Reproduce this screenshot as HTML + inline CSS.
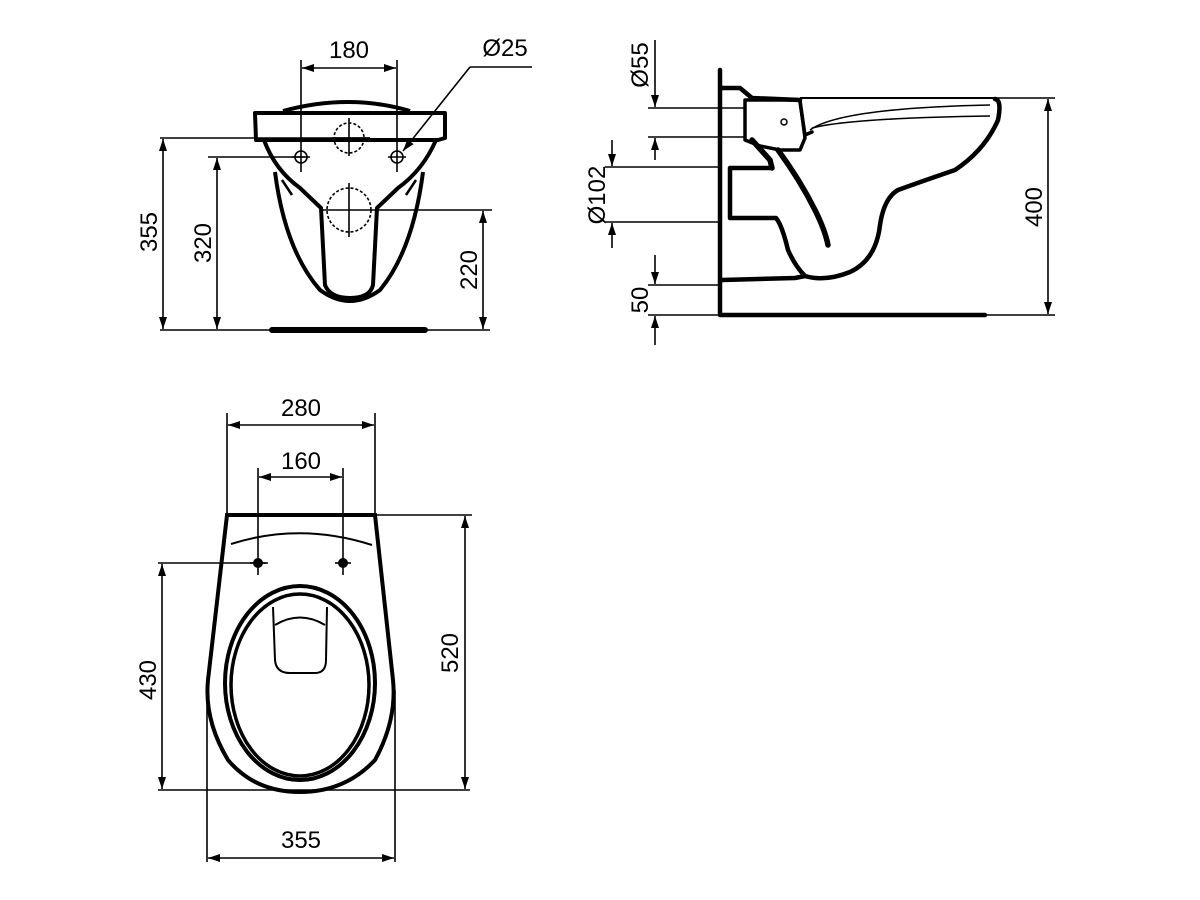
<!DOCTYPE html>
<html><head><style>html,body{margin:0;padding:0;background:#fff;}svg{display:block}</style></head><body>
<svg width="1200" height="900" viewBox="0 0 1200 900" xmlns="http://www.w3.org/2000/svg" font-family="Liberation Sans, sans-serif" font-size="24">
<defs>
<marker id="a" viewBox="0 0 12 8" refX="12" refY="4" markerWidth="13" markerHeight="8" orient="auto-start-reverse" markerUnits="userSpaceOnUse"><path d="M0,0L12,4L0,8z" fill="#000"/></marker>
</defs>
<g stroke="#000" stroke-width="1.6" fill="none">
<line x1="301" y1="60" x2="301" y2="172"/><line x1="397" y1="60" x2="397" y2="172"/>
<line x1="302" y1="68" x2="396" y2="68" marker-start="url(#a)" marker-end="url(#a)"/>
<polyline points="532,67 470,67"/><line x1="470" y1="67" x2="403" y2="151" marker-end="url(#a)"/>
<line x1="160" y1="138" x2="370" y2="138"/>
<line x1="208" y1="157" x2="305" y2="157"/>
<line x1="320" y1="210" x2="492" y2="210"/>
<line x1="160" y1="330" x2="490" y2="330"/>
<line x1="163" y1="139" x2="163" y2="329" marker-start="url(#a)" marker-end="url(#a)"/>
<line x1="217" y1="158" x2="217" y2="329" marker-start="url(#a)" marker-end="url(#a)"/>
<line x1="483" y1="211" x2="483" y2="329" marker-start="url(#a)" marker-end="url(#a)"/>
<circle cx="349" cy="138" r="15" stroke-dasharray="3,2"/>
<circle cx="349" cy="210" r="22" stroke-dasharray="3,2"/>
<line x1="349" y1="118" x2="349" y2="156"/><line x1="332" y1="138" x2="370" y2="138"/>
<line x1="349" y1="183" x2="349" y2="237"/>
<circle cx="301" cy="157" r="6"/><circle cx="397" cy="157" r="6"/>
<line x1="292" y1="157" x2="310" y2="157"/><line x1="388" y1="157" x2="406" y2="157"/>
</g>
<g stroke="#000" stroke-width="4" fill="none" stroke-linejoin="round">
<path d="M255,113 L445,113 L445,138 L438,140 L256,140 Z"/>
<path d="M283,111 Q349,93 410,111"/>
<path d="M264,140 Q275,170 300,188 L321,208 L325,285 Q330,298 350,298 Q370,298 373,285 L377,208 L398,188 Q423,170 436,140"/>
<path d="M275,172 Q285,250 320,290 Q335,301 350,301 Q365,301 380,290 Q413,250 423,172"/>
<path d="M282,180 L292,195 M416,180 L406,195" stroke-width="2.5"/>
</g>
<line x1="272" y1="330" x2="425" y2="330" stroke="#000" stroke-width="6" stroke-linecap="round"/>
<text x="349" y="58" text-anchor="middle">180</text>
<text x="505" y="56" text-anchor="middle">Ø25</text>
<text transform="translate(157,232) rotate(-90)" text-anchor="middle">355</text>
<text transform="translate(211,243) rotate(-90)" text-anchor="middle">320</text>
<text transform="translate(477,270) rotate(-90)" text-anchor="middle">220</text>

<!-- SIDE VIEW -->
<g stroke="#000" stroke-width="1.6" fill="none">
<line x1="990" y1="98" x2="1055" y2="98"/><line x1="985" y1="315" x2="1055" y2="315"/>
<line x1="1048" y1="99" x2="1048" y2="314" marker-start="url(#a)" marker-end="url(#a)"/>
<line x1="648" y1="108" x2="745" y2="108"/><line x1="648" y1="137" x2="745" y2="137"/>
<line x1="655" y1="40" x2="655" y2="107" marker-end="url(#a)"/>
<line x1="655" y1="160" x2="655" y2="138" marker-end="url(#a)"/>
<line x1="605" y1="167" x2="720" y2="167"/><line x1="605" y1="222" x2="720" y2="222"/>
<line x1="612" y1="140" x2="612" y2="166" marker-end="url(#a)"/>
<line x1="612" y1="248" x2="612" y2="223" marker-end="url(#a)"/>
<line x1="648" y1="285" x2="722" y2="285"/><line x1="648" y1="315" x2="722" y2="315"/>
<line x1="655" y1="255" x2="655" y2="284" marker-end="url(#a)"/>
<line x1="655" y1="345" x2="655" y2="316" marker-end="url(#a)"/>
<line x1="800" y1="98" x2="995" y2="98" stroke-width="2"/>
<path d="M810,130 Q840,108 990,105"/>
<path d="M812,128 Q850,118 990,116"/>
</g>
<g stroke="#000" stroke-width="4.5" fill="none" stroke-linejoin="round" stroke-linecap="round">
<path d="M720,70 L720,315 L985,315"/>
<path d="M722,88 L740,88 L752,98 L800,100"/>
<path d="M995,99 Q1002,100 998,120 Q985,150 955,170 Q920,182 898,190 Q884,198 880,225 Q876,260 850,272 Q825,282 805,276 Q795,266 788,250 Q782,225 776,218 L730,218 L730,168 L772,168"/>
<path d="M722,280 L795,278 L805,276"/>
<path d="M745,100 L800,100 L805,138 L800,150 L780,150 L760,146 L745,140 Z" stroke-width="3.5"/>
<path d="M800,102 L805,135 L812,132" stroke-width="3.5"/>
<path d="M778,150 Q800,180 815,210 Q825,230 828,245" stroke-width="5.5"/>
<path d="M752,140 L770,160 L772,168" stroke-width="5.5"/>
</g>
<circle cx="784" cy="122" r="3" stroke="#000" stroke-width="1.5" fill="none"/>
<text transform="translate(648,65) rotate(-90)" text-anchor="middle">Ø55</text>
<text transform="translate(605,195) rotate(-90)" text-anchor="middle">Ø102</text>
<text transform="translate(648,300) rotate(-90)" text-anchor="middle">50</text>
<text transform="translate(1042,207) rotate(-90)" text-anchor="middle">400</text>

<!-- TOP VIEW -->
<g stroke="#000" stroke-width="1.6" fill="none">
<line x1="227" y1="413" x2="227" y2="515"/><line x1="375" y1="413" x2="375" y2="515"/>
<line x1="228" y1="425" x2="374" y2="425" marker-start="url(#a)" marker-end="url(#a)"/>
<line x1="258" y1="468" x2="258" y2="575"/><line x1="343" y1="468" x2="343" y2="575"/>
<line x1="259" y1="477" x2="342" y2="477" marker-start="url(#a)" marker-end="url(#a)"/>
<line x1="375" y1="515" x2="472" y2="515"/>
<line x1="158" y1="563" x2="268" y2="563"/>
<line x1="158" y1="790" x2="470" y2="790"/>
<line x1="465" y1="516" x2="465" y2="789" marker-start="url(#a)" marker-end="url(#a)"/>
<line x1="162" y1="564" x2="162" y2="789" marker-start="url(#a)" marker-end="url(#a)"/>
<line x1="207" y1="690" x2="207" y2="862"/><line x1="395" y1="690" x2="395" y2="862"/>
<line x1="208" y1="858" x2="394" y2="858" marker-start="url(#a)" marker-end="url(#a)"/>
<path d="M231,544 Q300,522 372,545" stroke-width="2"/>
<path d="M273,607 L275,660 Q276,673 290,673 L315,673 Q326,673 326,660 L327,607" stroke-width="2"/>
<path d="M275,625 Q300,610 325,625" stroke-width="2"/>
</g>
<g stroke="#000" stroke-width="4" fill="none">
<path d="M227,515 L375,515 L393,680 Q397,720 375,760 Q345,792 300,792 Q255,792 228,760 Q204,720 208,680 Z"/>
<ellipse cx="300" cy="683" rx="75" ry="97"/>
<ellipse cx="300" cy="685" rx="69" ry="91" stroke-width="3.5"/>
</g>
<circle cx="258" cy="563" r="5"/><circle cx="343" cy="563" r="5"/>
<g stroke="#000" stroke-width="1.6"><line x1="250" y1="563" x2="266" y2="563"/><line x1="335" y1="563" x2="351" y2="563"/></g>
<text x="301" y="416" text-anchor="middle">280</text>
<text x="301" y="469" text-anchor="middle">160</text>
<text x="301" y="848" text-anchor="middle">355</text>
<text transform="translate(156,680) rotate(-90)" text-anchor="middle">430</text>
<text transform="translate(458,653) rotate(-90)" text-anchor="middle">520</text>
</svg>
</body></html>
